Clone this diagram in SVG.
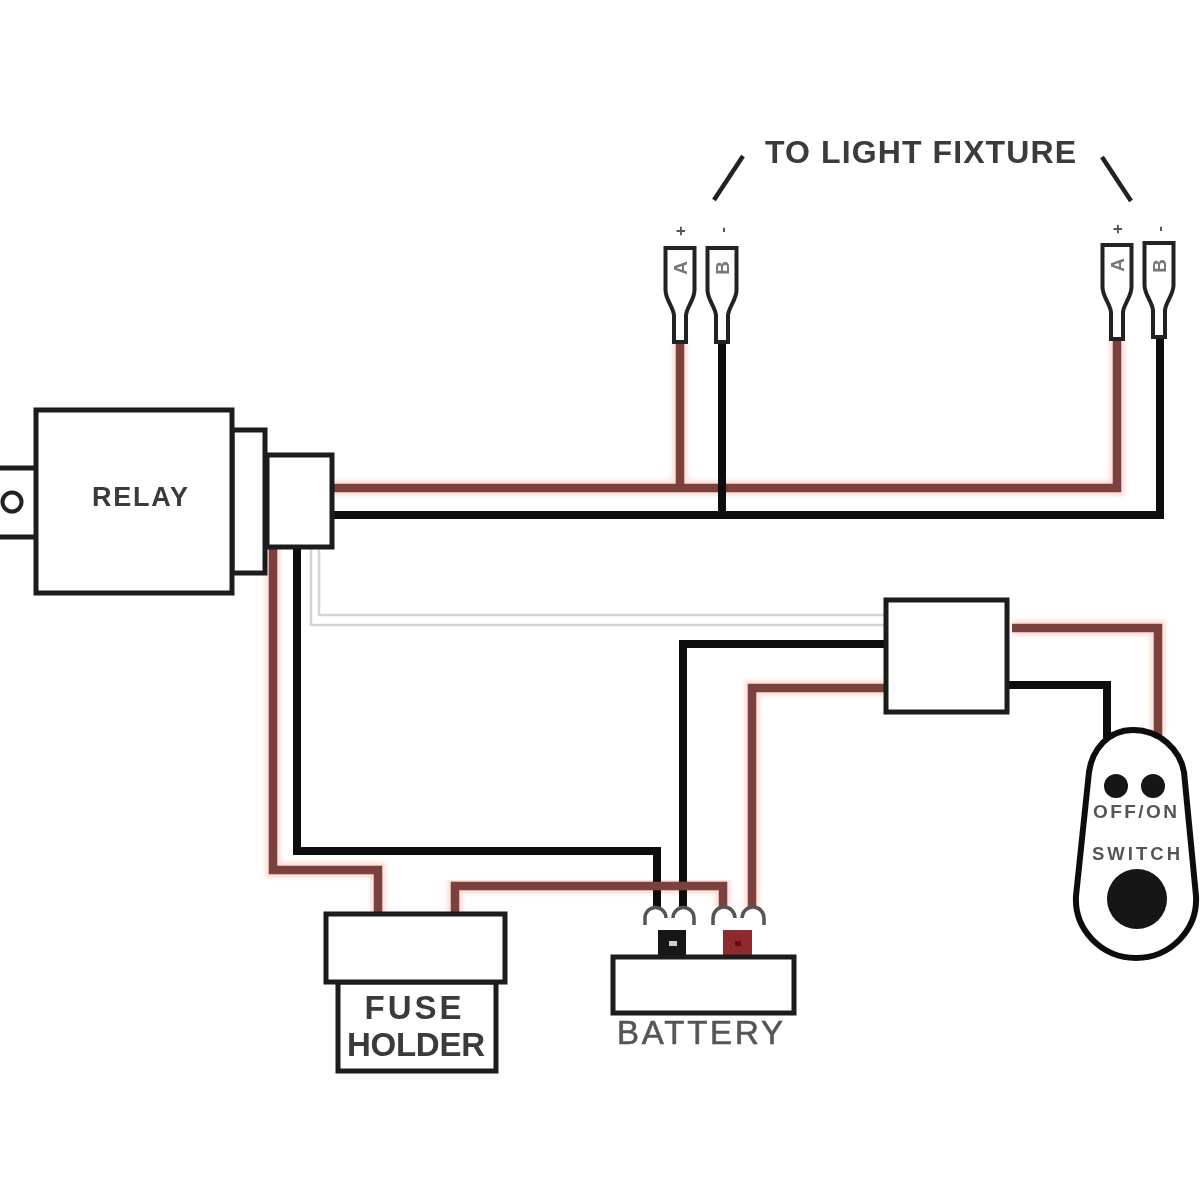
<svg xmlns="http://www.w3.org/2000/svg" width="1200" height="1200" viewBox="0 0 1200 1200">
<defs>
<style>
.box{fill:#fff;stroke:#1c1c1c;stroke-width:5}
.halo{fill:none;stroke:#fbdcd6;stroke-width:15;filter:url(#soft)}
.red{fill:none;stroke:#7c3f3c;stroke-width:8.500}
.blk{fill:none;stroke:#111;stroke-width:8}
.gry{fill:none;stroke:#d4d4d4;stroke-width:2.500}
.hook{fill:none;stroke:#555;stroke-width:3.500}
.term{fill:#fff;stroke:#222;stroke-width:4}
.lead{fill:none;stroke:#222;stroke-width:4.500}
text{font-family:"Liberation Sans",Arial,sans-serif;font-weight:700;fill:#3a3a3a;text-anchor:middle}
.small{font-size:19px;fill:#777}
.sign{font-size:17px;fill:#555}
.sw{fill:#555}
.bat{font-weight:400;fill:#555;stroke:#555;stroke-width:.6}
</style>
<filter id="soft" x="-20%" y="-20%" width="140%" height="140%"><feGaussianBlur stdDeviation="2"/></filter>
<filter id="photo" filterUnits="userSpaceOnUse" x="0" y="0" width="1200" height="1200"><feGaussianBlur stdDeviation="0.700"/></filter>
<path id="lug" d="M-14.500 0H14.500V42C14.500 52 6 60 6 68V94H-6V68C-6 60-14.500 52-14.500 42Z"/>
</defs>
<rect width="1200" height="1200" fill="#fff"/>
<g filter="url(#photo)">
<g id="connectors">
<path class="gry" d="M311 548V625H886"/>
<path class="gry" d="M319 548V615H886"/>
<path class="halo" d="M334 488H1117V340M680 488V342"/>
<path class="halo" d="M273 548V870H378V914"/>
<path class="halo" d="M455 914V886H723V908"/>
<path class="halo" d="M885 688H752V908"/>
<path class="halo" d="M1012 628H1158V735"/>
<path class="blk" d="M297 548V851H657V908"/>
<path class="blk" d="M885 644H683V908"/>
<path class="red" d="M334 488H1117V340M680 488V342"/>
<path class="blk" d="M334 515H1160V336M722 515V342"/>
<path class="red" d="M273 548V870H378V914"/>
<path class="red" d="M455 914V886H723V908"/>
<path class="red" d="M885 688H752V908"/>
<path class="red" d="M1012 628H1158V735"/>
<path class="blk" d="M1008 685H1107V738"/>
</g>
<g id="relay">
<rect class="box" x="-6" y="468" width="43" height="69"/>
<circle cx="12" cy="502" r="9.500" fill="#fff" stroke="#222" stroke-width="4"/>
<rect class="box" x="232" y="430" width="33" height="143"/>
<rect class="box" x="36" y="410" width="196" height="183"/>
<rect class="box" x="267" y="455" width="65" height="92"/>
<text x="140" y="506" font-size="27" textLength="96">RELAY</text>
</g>
<g id="light-fixture-label">
<text x="920.500" y="163" font-size="32" textLength="311">TO LIGHT FIXTURE</text>
<path class="lead" d="M743 156L714 200M1102 157L1131 201"/>
</g>
<g id="terminal-left-a">
<use href="#lug" class="term" x="680" y="248"/>
<text class="small" transform="translate(687 268) rotate(-90)">A</text>
<text class="sign" transform="translate(686 231) rotate(-90)">+</text>
</g>
<g id="terminal-left-b">
<use href="#lug" class="term" x="722" y="248"/>
<text class="small" transform="translate(729 268) rotate(-90)">B</text>
<text class="sign" transform="translate(728 230) rotate(-90)">-</text>
</g>
<g id="terminal-right-a">
<use href="#lug" class="term" x="1117" y="245"/>
<text class="small" transform="translate(1124 265) rotate(-90)">A</text>
<text class="sign" transform="translate(1123 229) rotate(-90)">+</text>
</g>
<g id="terminal-right-b">
<use href="#lug" class="term" x="1159" y="243"/>
<text class="small" transform="translate(1166 266) rotate(-90)">B</text>
<text class="sign" transform="translate(1165 229) rotate(-90)">-</text>
</g>
<g id="junction-box">
<rect class="box" x="886" y="600" width="121" height="112"/>
</g>
<g id="switch">
<path d="M1133 730C1160 730 1180 750 1184 772L1196 896C1198 930 1170 958 1136 958C1102 958 1074 930 1076 896L1089 772C1092 750 1108 730 1133 730Z" fill="#fff" stroke="#111" stroke-width="6"/>
<circle cx="1116" cy="786" r="12" fill="#161616"/>
<circle cx="1153" cy="786" r="12" fill="#161616"/>
<circle cx="1137" cy="899" r="30" fill="#161616"/>
<text class="sw" x="1135" y="818" font-size="19" textLength="84">OFF/ON</text>
<text class="sw" x="1136" y="860" font-size="18.500" textLength="88">SWITCH</text>
</g>
<g id="fuse-holder">
<rect class="box" x="338" y="982" width="158" height="89"/>
<rect class="box" x="326" y="914" width="179" height="68"/>
<text x="413" y="1019" font-size="33" textLength="97">FUSE</text>
<text x="416" y="1056" font-size="33" textLength="138">HOLDER</text>
</g>
<g id="battery">
<path class="hook" d="M645 925V918A10.500 10.500 0 0 1 666 918M673 918A10.500 10.500 0 0 1 694 918V925"/>
<path class="hook" d="M713 925V918A11 11 0 0 1 735 918M742 918A11 11 0 0 1 764 918V925"/>
<rect x="658" y="930" width="28" height="28" fill="#141414"/>
<rect x="669" y="941" width="8" height="5" fill="#ccc"/>
<rect x="723" y="930" width="29" height="28" fill="#8e2a2e"/>
<rect x="735" y="941" width="6" height="5" fill="#5d0f12"/>
<rect class="box" x="613" y="957" width="181" height="56"/>
<text class="bat" x="700" y="1044" font-size="33" textLength="166">BATTERY</text>
</g>
</g>
</svg>
